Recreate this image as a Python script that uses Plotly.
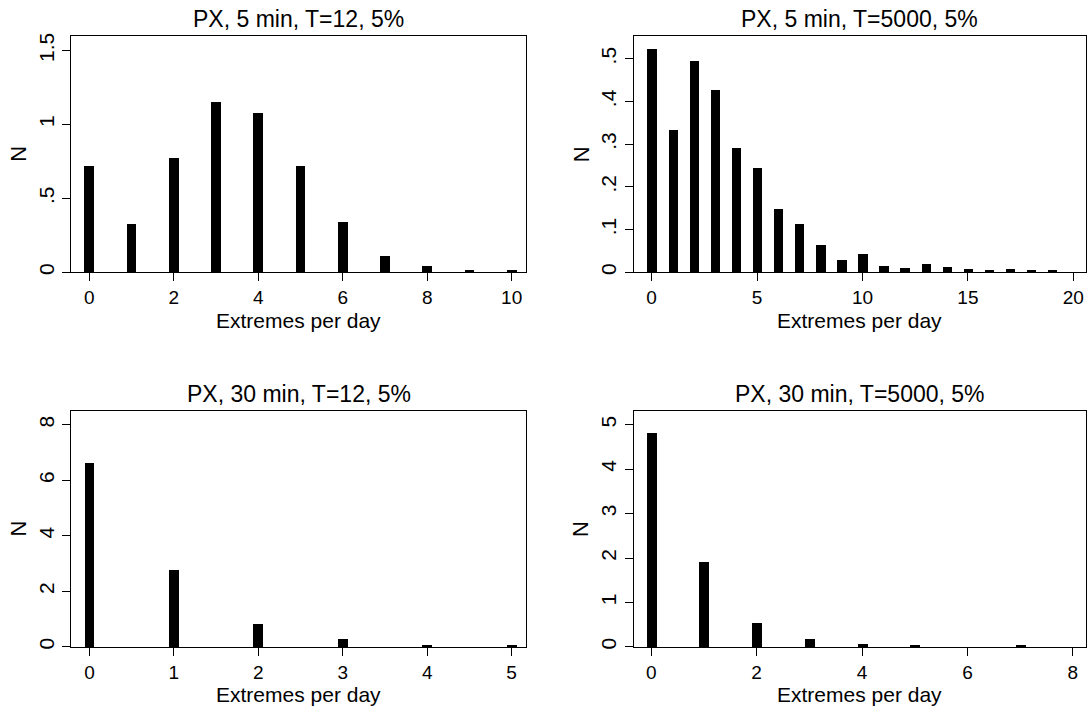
import plotly.graph_objects as go

# Frequency of extremes per day, four PX configurations
x_5m_t12 = list(range(0, 11))
n_5m_t12 = [0.716, 0.323, 0.769, 1.148, 1.072, 0.714, 0.339, 0.105, 0.040, 0.016, 0.007]

x_5m_t5000 = list(range(0, 20))
n_5m_t5000 = [0.522, 0.332, 0.493, 0.425, 0.291, 0.243, 0.147, 0.112, 0.062, 0.027,
              0.042, 0.015, 0.010, 0.0185, 0.012, 0.006, 0.0046, 0.0077, 0.0046, 0.0046]

x_30m_t12 = list(range(0, 6))
n_30m_t12 = [6.63, 2.77, 0.82, 0.27, 0.05, 0.05]

x_30m_t5000 = list(range(0, 8))
n_30m_t5000 = [4.81, 1.91, 0.535, 0.186, 0.074, 0.03, 0.0, 0.03]

titles = ["PX, 5 min, T=12, 5%", "PX, 5 min, T=5000, 5%",
          "PX, 30 min, T=12, 5%", "PX, 30 min, T=5000, 5%"]

yt_5m_t12 = ([0, 0.5, 1, 1.5], ["0", ".5", "1", "1.5"])
yt_5m_t5000 = ([0, 0.1, 0.2, 0.3, 0.4, 0.5], ["0", ".1", ".2", ".3", ".4", ".5"])
yt_30m_t12 = ([0, 2, 4, 6, 8], ["0", "2", "4", "6", "8"])
yt_30m_t5000 = ([0, 1, 2, 3, 4, 5], ["0", "1", "2", "3", "4", "5"])

xt_5m_t12 = [0, 2, 4, 6, 8, 10]
xt_5m_t5000 = [0, 5, 10, 15, 20]
xt_30m_t12 = [0, 1, 2, 3, 4, 5]
xt_30m_t5000 = [0, 2, 4, 6, 8]

W, H = 1090, 711
FONT = "Liberation Sans, Arial, sans-serif"

# panel geometry in pixels: (left, right, top, bottom)
boxes = [(71, 526, 32.7, 271), (633.5, 1086, 32.7, 271),
         (71, 526, 411, 649.3), (633.5, 1086, 411, 649.3)]

panels = [
    dict(x=x_5m_t12, y=n_5m_t12, w=0.23, xr=[-0.433, 10.34], yr=[0, 1.595],
         xt=xt_5m_t12, yt=yt_5m_t12),
    dict(x=x_5m_t5000, y=n_5m_t5000, w=0.445, xr=[-0.86, 20.6], yr=[0, 0.5525],
         xt=xt_5m_t5000, yt=yt_5m_t5000),
    dict(x=x_30m_t12, y=n_30m_t12, w=0.115, xr=[-0.218, 5.17], yr=[0, 8.5],
         xt=xt_30m_t12, yt=yt_30m_t12),
    dict(x=x_30m_t5000, y=n_30m_t5000, w=0.19, xr=[-0.336, 8.25], yr=[0, 5.31],
         xt=xt_30m_t5000, yt=yt_30m_t5000),
]

fig = go.Figure()
annotations = []
layout_axes = {}

for i, (p, box, title) in enumerate(zip(panels, boxes, titles)):
    k = "" if i == 0 else str(i + 1)
    l, r, t, b = box
    fig.add_trace(go.Bar(
        x=p["x"], y=p["y"], width=p["w"],
        marker=dict(color="black", line=dict(width=0)),
        xaxis="x" + k, yaxis="y" + k, showlegend=False,
    ))
    axis_common = dict(showline=True, mirror=True, linecolor="black", linewidth=1,
                       ticks="outside", ticklen=8, tickcolor="black", tickwidth=1,
                       showgrid=False, zeroline=False)
    layout_axes["xaxis" + k] = dict(
        axis_common, domain=[l / W, r / W], range=p["xr"], anchor="y" + k,
        tickmode="array", tickvals=p["xt"], ticktext=[str(v) for v in p["xt"]],
        tickfont=dict(family=FONT, size=19, color="black"),
    )
    layout_axes["yaxis" + k] = dict(
        axis_common, domain=[1 - b / H, 1 - t / H], range=p["yr"], anchor="x" + k,
        tickmode="array", tickvals=p["yt"][0], ticktext=p["yt"][1], tickangle=-90,
        tickfont=dict(family=FONT, size=21, color="black"),
    )
    cx = (l + r) / 2
    annotations.append(dict(text=title, x=cx / W, y=1 - (t - 17.5) / H,
                            xref="paper", yref="paper", showarrow=False,
                            xanchor="center", yanchor="middle",
                            font=dict(family=FONT, size=23, color="black")))
    annotations.append(dict(text="Extremes per day", x=cx / W, y=1 - (b + 48.5) / H,
                            xref="paper", yref="paper", showarrow=False,
                            xanchor="center", yanchor="middle",
                            font=dict(family=FONT, size=21, color="black")))
    annotations.append(dict(text="N", x=(l - 52.5) / W, y=1 - ((t + b) / 2) / H,
                            xref="paper", yref="paper", showarrow=False, textangle=-90,
                            xanchor="center", yanchor="middle",
                            font=dict(family=FONT, size=22, color="black")))

fig.update_layout(
    width=W, height=H,
    margin=dict(l=0, r=0, t=0, b=0),
    paper_bgcolor="white", plot_bgcolor="white",
    bargap=0, annotations=annotations,
    **layout_axes,
)

fig.write_html("out.html", config={"displayModeBar": False})
